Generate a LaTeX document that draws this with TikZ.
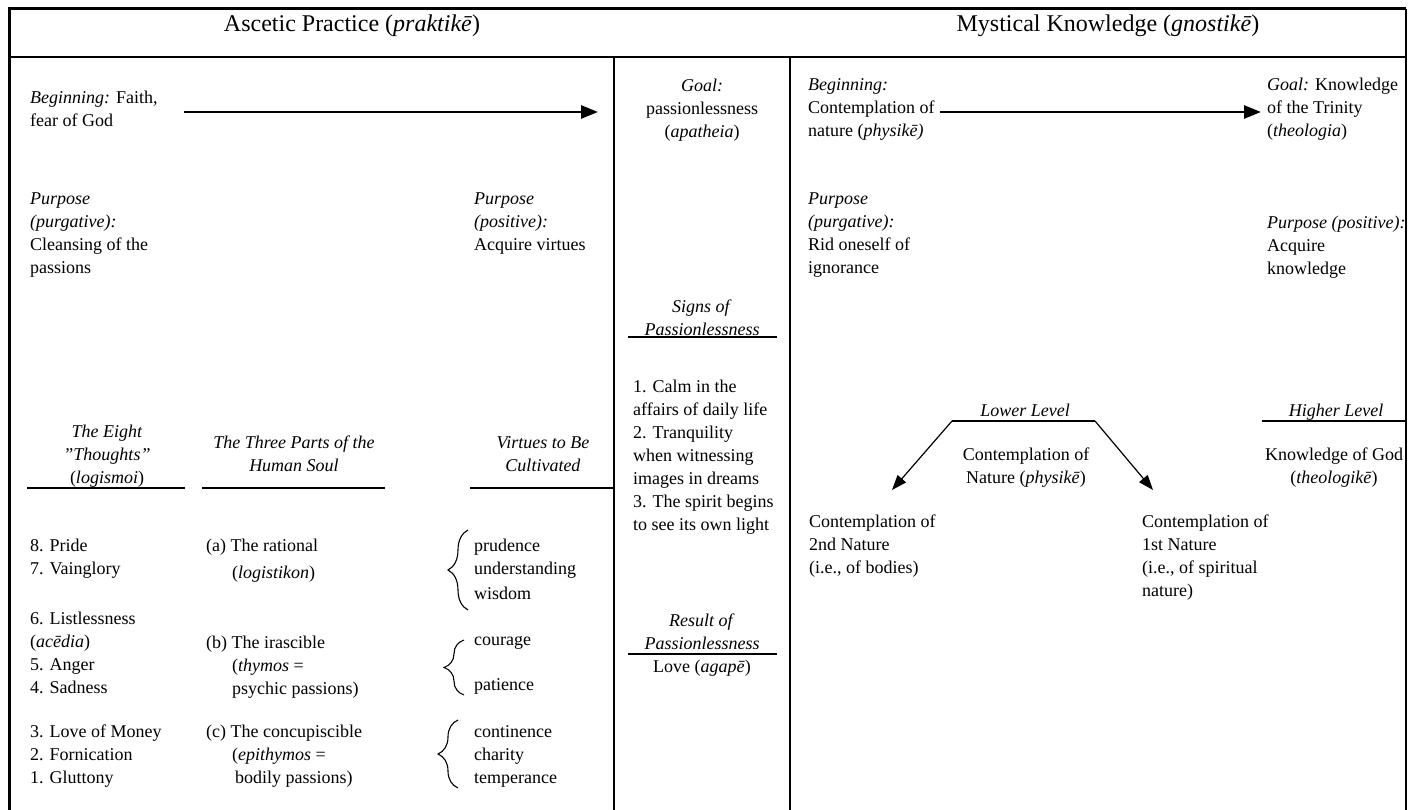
\documentclass[tikz,border=0pt]{standalone}
\usepackage{fontspec}
\setmainfont{Liberation Serif}
\usetikzlibrary{arrows.meta,decorations.pathreplacing}
\newcommand\bodysize{\fontsize{18}{23}\selectfont}
\newcommand\headsize{\fontsize{24}{28}\selectfont}
\newcommand\sq{\char34 }
\tikzset{
  txt/.style={font=\bodysize, inner sep=0pt, align=left, anchor=north west},
  ctxt/.style={font=\bodysize, inner sep=0pt, align=center, anchor=north},
  hdr/.style={font=\headsize, inner sep=0pt},
  frame/.style={line width=3pt},
  rule/.style={line width=1.2pt},
  bigarrow/.style={line width=2.8pt, -{Triangle[length=17pt,width=13pt]}},
  thinarrow/.style={line width=1.2pt, -{Triangle[length=15pt,width=11pt]}},
  curly/.style={decorate, decoration={brace, amplitude=20pt}, line width=1.1pt}
}
\begin{document}
\begin{tikzpicture}[x=1pt,y=-1pt]
\useasboundingbox (0,0) rectangle (1408,810);

% frame and columns
\draw[frame] (9,810) -- (9,9) -- (1406,9);
\draw[line width=2pt] (1406,9) -- (1406,810);
\draw[rule] (9,57) -- (1406,57);
\draw[rule] (614,57) -- (614,810);
\draw[rule] (790,57) -- (790,810);

\node[hdr] (asc) at (352,26) {Ascetic Practice (\textit{praktikē})};
\node[hdr] (mys) at (1108,26) {Mystical Knowledge (\textit{gnostikē})};

% ascetic practice, top
\node[txt] (beg) at (30,91) {\textit{Beginning:} Faith,\\fear of God};
\coordinate (begtip) at (184,112);
\coordinate (goaltip) at (598,112);
\draw[bigarrow] (begtip) -- (goaltip);
\node[txt] (purgL) at (30,193) {\textit{Purpose}\\\textit{(purgative):}\\Cleansing of the\\passions};
\node[txt] (posL) at (474,193) {\textit{Purpose}\\\textit{(positive):}\\Acquire virtues};

% middle column
\node[ctxt] (goal) at (702,79) {\textit{Goal:}\\passionlessness\\(\textit{apatheia})};
\node[ctxt] (signs) at (702,300) {\textit{Signs of}\\\textit{Passionlessness}};
\draw[rule] (628,337) -- (777,337);
\node[txt] (calm) at (633,380) {1. Calm in the\\affairs of daily life\\2. Tranquility\\when witnessing\\images in dreams\\3. The spirit begins\\to see its own light};
\node[ctxt] (result) at (702,614) {\textit{Result of}\\\textit{Passionlessness}};
\draw[rule] (628,654) -- (777,654);
\node[ctxt] (love) at (702,660) {Love (\textit{agapē})};

% column heads
\node[ctxt] (eight) at (107,425) {\textit{The Eight}\\\textit{\sq Thoughts\sq}\\(\textit{logismoi})};
\node[ctxt] (soul) at (294,436) {\textit{The Three Parts of the}\\\textit{Human Soul}};
\node[ctxt] (virt) at (543,436) {\textit{Virtues to Be}\\\textit{Cultivated}};
\draw[rule] (27,488) -- (185,488);
\draw[rule] (202,488) -- (385,488);
\draw[rule] (470,488) -- (614,488);

% the eight thoughts
\node[txt] (th87) at (30,539) {8. Pride\\7. Vainglory};
\node[txt] (th64) at (30,612) {6. Listlessness\\(\textit{acēdia})\\5. Anger\\4. Sadness};
\node[txt] (th31) at (30,725) {3. Love of Money\\2. Fornication\\1. Gluttony};

% parts of the soul
\node[txt] (rat) at (206,539) {(a) The rational};
\node[txt] (ratgr) at (232,566) {(\textit{logistikon})};
\node[txt] (ira) at (206,636) {(b) The irascible};
\node[txt] (iragr) at (232,659) {(\textit{thymos} =\\psychic passions)};
\node[txt] (con) at (206,725) {(c) The concupiscible};
\node[txt] (congr) at (232,748) {(\textit{epithymos} =\\\hspace*{3pt}bodily passions)};

% virtues
\node[txt] (vrat) at (474,539) {prudence\\understanding\\[2pt]wisdom};
\node[txt] (vira) at (474,636) {courage\\[22pt]patience};
\node[txt] (vcon) at (474,725) {continence\\charity\\temperance};
\draw[curly] (468,610) -- (468,530);
\draw[curly] (464,695) -- (464,640);
\draw[curly] (458,788) -- (458,720);

% mystical knowledge, top
\node[txt] (begR) at (808,78) {\textit{Beginning:}\\Contemplation of\\nature (\textit{physikē)}};
\node[txt] (goalR) at (1267,78) {\textit{Goal:} Knowledge\\of the Trinity\\(\textit{theologia})};
\coordinate (begRtip) at (940,112);
\coordinate (goalRtip) at (1261,112);
\draw[bigarrow] (begRtip) -- (goalRtip);
\node[txt] (purgR) at (808,193) {\textit{Purpose}\\\textit{(purgative):}\\Rid oneself of\\ignorance};
\node[txt] (posR) at (1267,216) {\textit{Purpose (positive):}\\Acquire\\knowledge};

% levels
\node[ctxt, font=\bodysize\itshape] (lower) at (1025,404) {Lower Level};
\coordinate (lowL) at (952,421);
\coordinate (lowR) at (1095,421);
\coordinate (tip2) at (892,490);
\coordinate (tip1) at (1153,490);
\draw[rule] (lowL) -- (lowR);
\draw[thinarrow] (lowL) -- (tip2);
\draw[thinarrow] (lowR) -- (tip1);
\node[ctxt] (natC) at (1026,448) {Contemplation of\\Nature (\textit{physikē})};
\node[txt] (nat2) at (809,515) {Contemplation of\\2nd Nature\\(i.e., of bodies)};
\node[txt] (nat1) at (1142,515) {Contemplation of\\1st Nature\\(i.e., of spiritual\\nature)};

\node[ctxt, font=\bodysize\itshape] (higher) at (1336,404) {Higher Level};
\draw[rule] (1262,421) -- (1406,421);
\node[ctxt] (god) at (1334,448) {Knowledge of God\\(\textit{theologikē})};
\end{tikzpicture}
\end{document}
